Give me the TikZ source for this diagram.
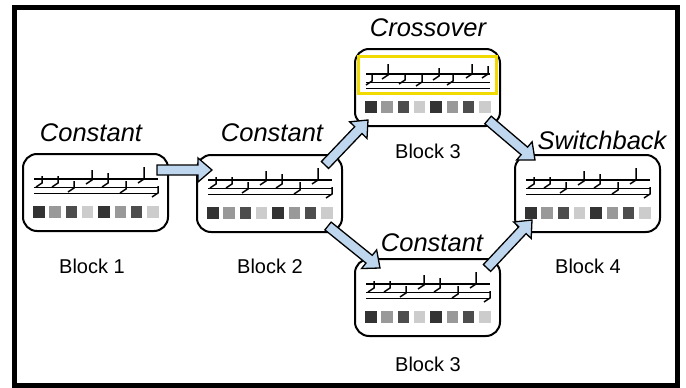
\documentclass[tikz,border=0pt]{standalone}
\usepackage{fontspec}
\setmainfont{Liberation Sans}
\usetikzlibrary{calc}
\definecolor{arrowblue}{RGB}{190,215,238}
\definecolor{hiyellow}{RGB}{240,218,0}
\definecolor{sqA}{RGB}{51,51,51}
\definecolor{sqB}{RGB}{153,153,153}
\definecolor{sqC}{RGB}{77,77,77}
\definecolor{sqD}{RGB}{204,204,204}
\tikzset{
  blockbox/.style={draw, line width=2pt, rounded corners=14pt, minimum width=145pt, minimum height=77pt, inner sep=0pt, outer sep=0pt, anchor=north west},
  titletext/.style={font=\itshape\fontsize{25.5}{28}\selectfont},
  blocklabel/.style={font=\fontsize{20}{23}\selectfont},
  staffline/.style={line width=1.1pt},
  notestroke/.style={line width=1.5pt},
  barrow/.style={draw, fill=arrowblue, line width=1.3pt, line join=miter},
  hlbox/.style={draw=hiyellow, line width=3pt, minimum width=138pt, minimum height=37pt, inner sep=0pt, outer sep=0pt, anchor=north west},
}
\newcommand{\musicstaff}[2]{%
  \begin{scope}[shift={(#1.north west)}]
    \foreach \ly in {25,33.5,39.5} \draw[staffline] (11,\ly) -- (135,\ly);
    \foreach \nx/\nt/\nb in #2 \draw[notestroke] (\nx,\nt) -- (\nx,\nb) -- ++(-6,4);
    \foreach \i/\c in {0/sqA,1/sqB,2/sqC,3/sqD,4/sqA,5/sqB,6/sqC,7/sqD}
      \fill[\c] (10+16.3*\i,52) rectangle ++(11.5,12);
  \end{scope}}
\newcommand{\blockarrow}[2]{%
  \coordinate (hb) at ($(#2)!14pt!(#1)$);
  \draw[barrow] ($(#1)!5pt!90:(#2)$) -- ($(hb)!5pt!90:(#2)$) -- ($(hb)!12pt!90:(#2)$) -- (#2)
     -- ($(hb)!12pt!-90:(#2)$) -- ($(hb)!5pt!-90:(#2)$) -- ($(#1)!5pt!-90:(#2)$) -- cycle;}
\def\patA{19/22/29,35/22/29,51/27/34,69/16/26,85/19/29,103/27/35,121/13/25,135/32/39}
\def\patB{17/25/32,33/15/26,50/24/31,67/26/33,84/19/27,98/25/32,117/15/25,133/17/25}
\begin{document}
\begin{tikzpicture}[x=1pt,y=-1pt]
  \useasboundingbox (0,0) rectangle (686,388);
  \fill[white] (0,0) rectangle (686,388);
  \draw[line width=5pt] (14.5,7.5) rectangle (677.5,385.5);

  % boxes
  \node[blockbox] (b1) at (23,154) {};
  \node[blockbox] (b2) at (197,155) {};
  \node[blockbox] (b3t) at (355,49) {};
  \node[blockbox] (b3b) at (355,259) {};
  \node[blockbox] (b4) at (515,155) {};
  \node[hlbox] (hl) at (358,56) {};

  \musicstaff{b1}{\patA}
  \musicstaff{b2}{\patA}
  \musicstaff{b3t}{\patB}
  \musicstaff{b3b}{\patA}
  \musicstaff{b4}{\patA}

  % titles
  \node[titletext] (t1) at (91,133) {Constant};
  \node[titletext] (t2) at (272,133) {Constant};
  \node[titletext] (t3) at (428,28) {Crossover};
  \node[titletext] (t4) at (602,140) {Switchback};
  \node[titletext] (t5) at (432,243) {Constant};

  % labels
  \node[blocklabel] (l1) at (92,266) {Block 1};
  \node[blocklabel] (l2) at (270,266) {Block 2};
  \node[blocklabel] (l3) at (428,151) {Block 3};
  \node[blocklabel] (l4) at (428,364) {Block 3};
  \node[blocklabel] (l5) at (588,266) {Block 4};

  % arrows
  \coordinate (a1s) at (157,170); \coordinate (a1e) at (212,170);
  \coordinate (a2s) at (325,165); \coordinate (a2e) at (368,120);
  \coordinate (a3s) at (488,120); \coordinate (a3e) at (535,160);
  \coordinate (a4s) at (328,226); \coordinate (a4e) at (380,268);
  \coordinate (a5s) at (487,268); \coordinate (a5e) at (532,220);
  \blockarrow{a1s}{a1e}
  \blockarrow{a2s}{a2e}
  \blockarrow{a3s}{a3e}
  \blockarrow{a4s}{a4e}
  \blockarrow{a5s}{a5e}
\end{tikzpicture}
\end{document}
